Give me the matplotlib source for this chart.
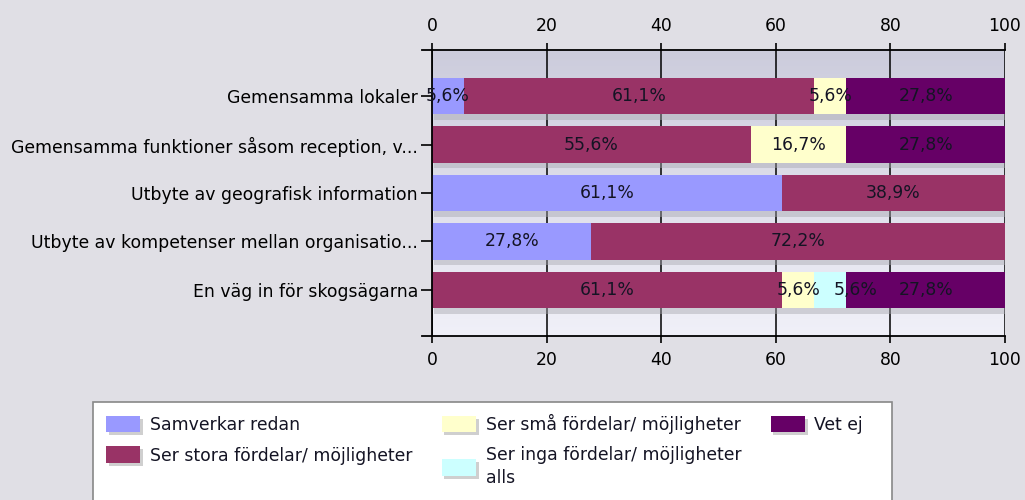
import matplotlib.pyplot as plt
import matplotlib.patheffects as pe
from matplotlib.patches import Rectangle, Patch
from matplotlib.colors import LinearSegmentedColormap
import numpy as np

categories = [
    "Gemensamma lokaler",
    "Gemensamma funktioner såsom reception, v...",
    "Utbyte av geografisk information",
    "Utbyte av kompetenser mellan organisatio...",
    "En väg in för skogsägarna",
]
series_names = [
    "Samverkar redan",
    "Ser stora fördelar/ möjligheter",
    "Ser små fördelar/ möjligheter",
    "Ser inga fördelar/ möjligheter\nalls",
    "Vet ej",
]
samverkar = [5.6, 0, 61.1, 27.8, 0]
stora = [61.1, 55.6, 38.9, 72.2, 61.1]
sma = [5.6, 16.7, 0, 0, 5.6]
inga = [0, 0, 0, 0, 5.6]
vetej = [27.8, 27.8, 0, 0, 27.8]
series = [samverkar, stora, sma, inga, vetej]
colors = ["#9999ff", "#993366", "#ffffcc", "#ccffff", "#660066"]
xticks = [0, 20, 40, 60, 80, 100]

plt.rcParams['font.family'] = ['DejaVu Sans']
fs = 12.4
fig = plt.figure(figsize=(10.25, 5), dpi=100)
fig.patch.set_facecolor("#e0dfe5")
ax = fig.add_axes([432 / 1025, 1 - 336 / 500, (1005 - 432) / 1025, (336 - 50) / 500])
ax.set_facecolor("none")

# gradient plot area
grad = np.linspace(0, 1, 256).reshape(-1, 1)
cm = LinearSegmentedColormap.from_list("bg", ["#ccccdc", "#f0f0f8"])
ax.imshow(grad, cmap=cm, aspect="auto", extent=[0, 1, 0, 1], transform=ax.transAxes, zorder=0)

y = np.arange(len(categories))
left = np.zeros(len(categories))
shadow = [pe.SimplePatchShadow(offset=(1.5, -4), shadow_rgbFace="#a8a8b0", alpha=0.45), pe.Normal()]
labels = {i: [] for i in y}
for vals, col, name in zip(series, colors, series_names):
    vals = np.array(vals)
    bars = ax.barh(y, vals, left=left, height=0.75, color=col, label=name, zorder=2)
    for b in bars:
        b.set_path_effects(shadow)
    for yi, v, l in zip(y, vals, left):
        if v > 0:
            t = ax.text(l + v / 2, yi, f"{v:.1f}%".replace(".", ","), ha="center", va="center",
                        fontsize=fs, color="#141424", zorder=3)
            labels[yi].append(t)
    left += vals

ax.set_xlim(0, 100)
ax.set_ylim(len(categories) - 0.05, -0.95)
ax.set_xticks(xticks)
ax.set_yticks(y)
ax.set_yticklabels(categories)
ax.set_axisbelow(True)
ax.grid(axis="x", color="black", lw=1.1)
ax.tick_params(axis="x", top=True, bottom=True, labeltop=True, labelbottom=True,
               direction="out", length=5, width=1.2, labelsize=fs, pad=6, color="black")
ax.tick_params(axis="y", direction="out", length=8, width=1.2, labelsize=fs, pad=2)
for s in ["top", "bottom", "left"]:
    ax.spines[s].set_linewidth(1.3)
ax.spines["right"].set_visible(False)
# small extensions of the axis lines to the left
for yy in (0, 1):
    ax.plot([-0.018, 0], [yy, yy], transform=ax.transAxes, color="black", lw=1.3, clip_on=False)

# push a value label right when it would run into the previous one
renderer = fig.canvas.get_renderer()
inv = ax.transData.inverted()
for yi, ts in labels.items():
    for prev, cur in zip(ts[:-1], ts[1:]):
        pb = prev.get_window_extent(renderer)
        cb = cur.get_window_extent(renderer)
        if cb.x0 < pb.x1 + 4:
            shift = pb.x1 + 14 - cb.x0
            x_new = inv.transform((cb.x0 + shift + cb.width / 2, 0))[0]
            cur.set_x(x_new)

# legend box
fig.patches.append(Rectangle((93 / 1025, -0.1), (892 - 93) / 1025, 0.1 + (500 - 402) / 500,
                             transform=fig.transFigure, facecolor="white", edgecolor="#888888",
                             lw=1.2, zorder=0))
hshadow = [pe.SimplePatchShadow(offset=(2, -2), shadow_rgbFace="#a0a0a0", alpha=0.5), pe.Normal()]
handles = [Patch(facecolor=c, edgecolor="none", label=n) for c, n in zip(colors, series_names)]
for h in handles:
    h.set_path_effects(hshadow)
leg = fig.legend(handles=handles, loc="upper left", ncol=3, frameon=False,
                 bbox_to_anchor=(106 / 1025, 1 - 414 / 500), fontsize=fs,
                 handlelength=2.0, handleheight=1.1, handletextpad=0.55,
                 columnspacing=1.7, labelspacing=0.72, borderpad=0, borderaxespad=0)
for t in leg.get_texts():
    t.set_linespacing(1.3)
    t.set_color("#141424")

fig.savefig("out.png", dpi=100, facecolor=fig.get_facecolor())
